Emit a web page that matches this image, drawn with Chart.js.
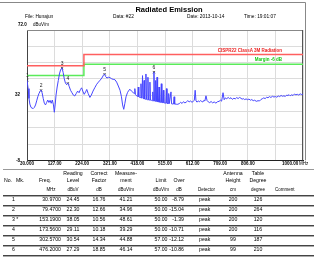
<!DOCTYPE html>
<html>
<head>
<meta charset="utf-8">
<script src="https://cdn.jsdelivr.net/npm/chart.js@4.4.1/dist/chart.umd.min.js"></script>
<style>
body{margin:0;background:#fff;width:316px;height:259px;overflow:hidden;position:relative;font-family:"Liberation Sans",Arial,sans-serif;color:#000}
#wrap{position:absolute;left:0;top:0;width:316px;height:170px}
.t{position:absolute;white-space:nowrap;line-height:1}
.rule{position:absolute;left:3px;width:311px;height:1px;background:#444;border-bottom:1px solid #aaa}
</style>
</head>
<body>
<div id="wrap"><canvas id="chart" width="316" height="170"></canvas></div>
<script>
// scan trace (MHz, dBuV/m)
const freq = [30, 31, 34, 37, 40, 44, 48, 52, 56, 60, 64, 68, 72, 76, 79.5, 83, 87, 91, 95, 99,
  103, 107, 111, 115, 119, 123, 126, 129, 132, 136, 140, 144, 148, 153, 157, 161, 165, 169, 173.5, 178,
  183, 188, 193, 198, 203, 208, 213, 218, 222, 226, 231, 236, 240, 245, 251, 256, 262, 268, 275, 281,
  287, 293, 298, 302.6, 306, 311, 316, 322, 328, 333, 339, 345, 351, 357, 362, 366, 370, 374, 378, 383,
  388, 392, 397,
  403, 407, 409, 411, 415, 419, 421, 423, 427, 429, 430.5, 432, 434, 436, 438, 440, 441.5, 443, 446, 448,
  450, 453, 455, 457, 460, 462, 464, 468, 470, 472, 474, 476.2, 478, 480, 482, 485, 487, 489, 492, 494,
  496, 500, 502, 504, 507, 509, 511, 514, 518, 520, 522, 526, 528, 530, 532, 536, 538, 540, 545, 547,
  549, 551, 556, 560,
  565, 570, 575, 580, 585, 590, 595, 600, 605, 610, 614, 618, 621, 624, 628, 632, 636, 640, 644, 648,
  652, 655, 659, 663, 667, 672, 677, 682, 688, 694, 699, 705, 710, 714, 719, 723, 727, 732, 737, 742,
  747, 752, 757, 762, 767, 772, 777, 782, 786, 790, 795, 800, 805, 810, 815, 820, 825, 830, 836, 842,
  847, 852, 857, 862, 867, 872, 877, 882, 887, 893, 898, 903, 908, 913, 918, 923, 928, 933, 938, 943,
  947, 951, 955, 960, 965, 970, 975, 980, 985, 990, 995, 1000];
const level = [41.2, 41.2, 36, 30, 26.5, 24.5, 24, 23.8, 24.5, 26, 28.5, 31, 33, 34.3, 35, 33.5, 30, 27, 26, 27.5,
  29, 27.5, 28.8, 27, 29, 26, 21.5, 26, 32, 37, 41, 45, 47.5, 48.6, 46, 42, 39.5, 38.5, 39.3, 37.5,
  35, 33.5, 32, 31.5, 33, 34.5, 33.5, 35.5, 36.5, 34.5, 32.5, 34, 35.5, 33, 30.6, 32, 34.5, 36.5, 38.7, 40,
  41.2, 42.5, 44, 44.9, 43.5, 42.5, 43, 42.7, 42, 41.7, 41.5, 40, 37.6, 35, 31, 26, 23.3, 27, 31, 33.5,
  35, 35.6, 34.5,
  33.6, 33, 36, 32.5, 31.6, 31.2, 37, 31, 30.6, 30.5, 39, 30.3, 30.2, 44, 30, 29.8, 41, 29.7, 29.5, 45,
  29.4, 29.2, 43, 29.1, 29, 40, 28.9, 28.8, 28.6, 34, 28.5, 46.1, 28.4, 28.2, 41, 28.1, 43, 28, 27.8, 37,
  27.7, 27.6, 39, 27.5, 27.4, 35, 27.3, 27.2, 27.1, 36, 27, 26.9, 33, 26.8, 26.8, 34, 26.7, 26.6, 26.6, 31,
  26.5, 26.5, 26.4, 26.4,
  26.8, 27.6, 26.9, 28, 27.2, 27.8, 28.6, 27.9, 28.4, 27.6, 28.2, 28.8, 35, 28.4, 27.7, 28.5, 27.9, 28.7, 28.1, 27.8,
  28.9, 28.4, 31.6, 28.6, 27.9, 27.4, 28.1, 27.3, 27.8, 27.1, 27.9, 28.2, 28.9, 28.3, 33.5, 29.2, 30.3, 29.8, 30.6, 29.9,
  30.4, 29.4, 30.1, 29.7, 30.5, 29.9, 30.6, 30.1, 29.5, 29.9, 29.3, 29.7, 29.2, 29.6, 28.9, 29.3, 28.6, 28.9, 28.2, 28.6,
  28.4, 29.3, 29.8, 30.3, 29.9, 30.7, 30.4, 31.1, 30.6, 31.3, 30.8, 31.2, 30.7, 31.5, 31.1, 31.8, 31.3, 31.6, 31.2, 32.1,
  31.7, 32.3, 31.6, 32.2, 31.8, 32.7, 32.2, 32.5, 32.1, 32.8, 32.4, 32.6];

// limit lines
const limitFreq = [30, 230, 230, 1000];
const limitLevel = [50, 50, 57, 57];
const marginLevel = [44, 44, 51, 51];

// marked peaks (table)
const markNo = ['1', '2', '3', '4', '5', '6'];
const markMk = ['', '', '*', '', '', ''];
const markFreq = [30.97, 79.47, 153.19, 173.56, 302.57, 476.2];
const reading = [24.45, 22.30, 38.05, 29.11, 30.54, 27.29];
const correct = [16.76, 12.66, 10.56, 10.18, 14.34, 18.85];
const measured = [41.21, 34.96, 48.61, 39.29, 44.88, 46.14];
const limit = [50.00, 50.00, 50.00, 50.00, 57.00, 57.00];
const over = [-8.79, -15.04, -1.39, -10.71, -12.12, -10.86];
const detector = ['peak', 'peak', 'peak', 'peak', 'peak', 'peak'];
const antHeight = [200, 200, 200, 200, 99, 99];
const tableDeg = [126, 264, 120, 116, 187, 210];

// axes
const xTicks = [30, 127, 224, 321, 418, 515, 612, 709, 806, 903, 1000];
const xTickLabels = ['30.000', '127.00', '224.00', '321.00', '418.00', '515.00', '612.00', '709.00', '806.00', '', ''];
const yTicks = [-8, 2, 12, 22, 32, 42, 52, 62, 72];
const yTickLabels = ['-8', '', '', '', '32', '', '', '', ''];

const FONT = 'Liberation Sans';

function put(s, x, y, size, align, extra) {
  const d = document.createElement('div');
  d.className = 't';
  d.textContent = s;
  d.style.fontSize = size + 'px';
  d.style.left = x + 'px';
  d.style.top = (y - size / 2) + 'px';
  if (align === 'center') d.style.transform = 'translateX(-50%)';
  if (align === 'right') d.style.transform = 'translateX(-100%)';
  Object.assign(d.style, extra || {});
  document.body.appendChild(d);
}
function rule(y) {
  const d = document.createElement('div');
  d.className = 'rule';
  d.style.top = y + 'px';
  document.body.appendChild(d);
}

// frame + marker numbers
const decor = {
  id: 'decor',
  beforeDatasetsDraw(chart) {
    const {ctx, chartArea: a} = chart;
    ctx.save();
    ctx.strokeStyle = '#888';
    ctx.lineWidth = 1;
    ctx.beginPath();
    ctx.moveTo(0, 2.5); ctx.lineTo(305.5, 2.5); ctx.lineTo(305.5, a.bottom);
    ctx.moveTo(a.left, a.top + 0.5); ctx.lineTo(a.right, a.top + 0.5);
    ctx.stroke();
    ctx.strokeStyle = '#555';
    ctx.beginPath();
    ctx.moveTo(a.right - 0.5, a.top); ctx.lineTo(a.right - 0.5, a.bottom);
    ctx.stroke();
    ctx.restore();
  },
  afterDatasetsDraw(chart) {
    const {ctx} = chart;
    const meta = chart.getDatasetMeta(3);
    ctx.save();
    ctx.fillStyle = '#222';
    ctx.font = '5px ' + FONT;
    ctx.textAlign = 'center';
    ctx.textBaseline = 'bottom';
    meta.data.forEach((p, i) => ctx.fillText(markNo[i], p.x, p.y - 2));
    ctx.restore();
  }
};

new Chart(document.getElementById('chart'), {
  type: 'line',
  data: {
    datasets: [
      {
        data: freq.map((f, i) => ({x: f, y: level[i]})),
        borderColor: 'rgb(70,70,255)',
        borderWidth: 1,
        pointRadius: 0,
        tension: 0
      },
      {
        data: limitFreq.map((f, i) => ({x: f, y: limitLevel[i]})),
        borderColor: 'rgb(255,95,95)',
        borderWidth: 1.5,
        pointRadius: 0
      },
      {
        data: limitFreq.map((f, i) => ({x: f, y: marginLevel[i]})),
        borderColor: 'rgb(90,235,90)',
        borderWidth: 1.5,
        pointRadius: 0
      },
      {
        type: 'scatter',
        data: markFreq.map((f, i) => ({x: f, y: measured[i]})),
        pointStyle: 'crossRot',
        pointRadius: 1.6,
        borderColor: '#333',
        borderWidth: 0.8
      }
    ]
  },
  options: {
    responsive: false,
    devicePixelRatio: 1,
    animation: false,
    events: [],
    layout: {padding: {top: 30, right: 13, left: 0, bottom: 0}},
    plugins: {legend: {display: false}, tooltip: {enabled: false}},
    scales: {
      x: {
        type: 'linear',
        min: 30,
        max: 1000,
        afterBuildTicks: s => { s.ticks = xTicks.map(v => ({value: v})); },
        afterFit: s => { s.height = 9; },
        ticks: {
          callback: (v, i) => xTickLabels[i],
          font: {size: 4.5, weight: 'bold', family: FONT},
          color: '#000',
          padding: 1,
          maxRotation: 0,
          autoSkip: false
        },
        grid: {color: '#dcdcdc', drawTicks: false},
        border: {color: '#222'}
      },
      y: {
        min: -8,
        max: 72,
        afterBuildTicks: s => { s.ticks = yTicks.map(v => ({value: v})); },
        afterFit: s => { s.width = 27; },
        ticks: {
          callback: (v, i) => yTickLabels[i],
          font: {size: 4.5, weight: 'bold', family: FONT},
          color: '#000',
          padding: 7
        },
        grid: {color: '#dcdcdc', drawTicks: false},
        border: {color: '#444'}
      }
    }
  },
  plugins: [decor]
});

// header texts
put('Radiated Emission', 169, 9.5, 7.5, 'center', {fontWeight: 'bold'});
put('File: Hunajun', 25, 17, 4.8);
put('Data: #22', 113, 17, 4.8);
put('Date: 2013-10-14', 187, 17, 4.8);
put('Time: 19:01:07', 244, 17, 4.8);
put('72.0', 18, 25.5, 4.5, null, {fontWeight: 'bold'});
put('dBuV/m', 33, 25.5, 4.5);
put('CISPR22 ClassA 3M Radiation', 282, 51, 4.5, 'right', {fontWeight: 'bold', color: 'rgb(235,30,30)'});
put('Margin -6 dB', 282, 60.5, 4.5, 'right', {fontWeight: 'bold', color: 'rgb(20,200,20)'});
put('1000.00', 282, 164.5, 4.5, null, {fontWeight: 'bold'});
put('MHz', 299, 164.5, 4.5);

// table
const hs = 5.2, ds = 5.2;
const tableTop = document.createElement('div');
tableTop.style.cssText = 'position:absolute;left:3px;top:169px;width:311px;height:1px;background:#999';
document.body.appendChild(tableTop);

put('Reading', 73, 173.5, hs, 'center');
put('Correct', 99, 173.5, hs, 'center');
put('Measure-', 126, 173.5, hs, 'center');
put('Antenna', 233, 173.5, hs, 'center');
put('Table', 258, 173.5, hs, 'center');

put('No.', 4, 181, hs);
put('Mk.', 16, 181, hs);
put('Freq.', 45, 181, hs, 'center');
put('Level', 73, 181, hs, 'center');
put('Factor', 99, 181, hs, 'center');
put('ment', 126, 181, hs, 'center');
put('Limit', 161, 181, hs, 'center');
put('Over', 179, 181, hs, 'center');
put('Height', 233, 181, hs, 'center');
put('Degree', 258, 181, hs, 'center');

const us = 4.5;
put('MHz', 51, 190.5, us, 'center');
put('dBuV', 73, 190.5, us, 'center');
put('dB', 99, 190.5, us, 'center');
put('dBuV/m', 126, 190.5, us, 'center');
put('dBuV/m', 161, 190.5, us, 'center');
put('dB', 179, 190.5, us, 'center');
put('Detector', 198, 190.5, us);
put('cm', 233, 190.5, us, 'center');
put('degree', 258, 190.5, us, 'center');
put('Comment', 275, 190.5, us);

rule(194.5);
markNo.forEach((n, i) => {
  const y = 199.5 + i * 10;
  put(n + (markMk[i] ? ' ' + markMk[i] : ''), 12, y, ds);
  put(markFreq[i].toFixed(4), 61, y, ds, 'right');
  put(reading[i].toFixed(2), 73, y, ds, 'center');
  put(correct[i].toFixed(2), 99, y, ds, 'center');
  put(measured[i].toFixed(2), 126, y, ds, 'center');
  put(limit[i].toFixed(2), 161, y, ds, 'center');
  put(over[i].toFixed(2), 184, y, ds, 'right');
  put(detector[i], 199, y, ds);
  put(String(antHeight[i]), 233, y, ds, 'center');
  put(String(tableDeg[i]), 258, y, ds, 'center');
  rule(204.5 + i * 10);
});
</script>
</body>
</html>
